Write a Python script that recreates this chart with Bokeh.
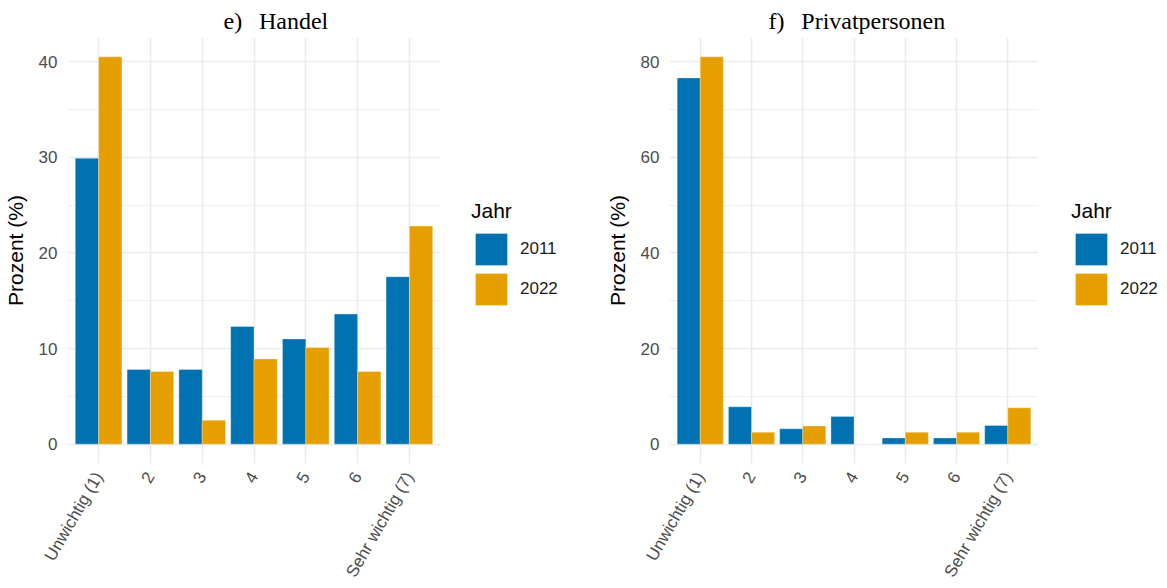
from bokeh.plotting import figure
from bokeh.models import (ColumnDataSource, FactorRange, Range1d, FixedTicker,
                          Legend, LegendItem)
from bokeh.transform import dodge
from bokeh.layouts import row
from bokeh.embed import file_html
from bokeh.resources import INLINE

# ---- data -----------------------------------------------------------------
categories = ["Unwichtig (1)", "2", "3", "4", "5", "6", "Sehr wichtig (7)"]
years = ["2011", "2022"]
handel_2011 = [29.9, 7.8, 7.8, 12.3, 11.0, 13.6, 17.5]
handel_2022 = [40.5, 7.6, 2.5, 8.9, 10.1, 7.6, 22.8]
privat_2011 = [76.6, 7.8, 3.2, 5.8, 1.3, 1.3, 3.9]
privat_2022 = [81.0, 2.5, 3.8, 0.0, 2.5, 2.5, 7.6]
handel_ticks = [0, 10, 20, 30, 40]
privat_ticks = [0, 20, 40, 60, 80]
titles = ["e)\u00a0\u00a0\u2009Handel", "f)\u00a0\u00a0\u2009Privatpersonen"]
legend_title = "Jahr"
y_label = "Prozent (%)"

COL_2011 = "#0072B2"
COL_2022 = "#E69F00"
SANS = "Liberation Sans"
SERIF = "Liberation Serif"

FIG_H = 588
B_TOP = 37
B_BOTTOM = 125


def make_panel(title, v2011, v2022, ticks, border_left, frame_w, title_offset):
    src = ColumnDataSource(dict(cat=categories, y2011=v2011, y2022=v2022))
    vmax = max(max(v2011), max(v2022))
    pad = 0.05 * vmax
    p = figure(x_range=FactorRange(factors=categories, range_padding=0.1,
                                   range_padding_units="absolute"),
               y_range=Range1d(-pad, vmax + pad),
               width=border_left + frame_w, height=FIG_H,
               output_backend="svg", toolbar_location=None,
               min_border_left=border_left, min_border_right=0,
               min_border_top=B_TOP, min_border_bottom=B_BOTTOM)
    p.outline_line_color = None
    p.background_fill_color = "white"
    p.border_fill_color = "white"

    p.title.text = title
    p.title.text_font = SERIF
    p.title.text_font_size = "24px"
    p.title.text_font_style = "normal"
    p.title.text_color = "black"
    p.title.align = "left"
    p.title.offset = title_offset
    p.title.standoff = 7

    p.vbar(x=dodge("cat", -0.225, range=p.x_range), top="y2011",
           width=0.45, source=src, fill_color=COL_2011,
           line_color="white", line_width=0.6, line_alpha=0.5)
    p.vbar(x=dodge("cat", 0.225, range=p.x_range), top="y2022",
           width=0.45, source=src, fill_color=COL_2022,
           line_color="white", line_width=0.6, line_alpha=0.5)

    step = ticks[1] - ticks[0]
    p.ygrid.ticker = FixedTicker(ticks=ticks,
                                 minor_ticks=[t + step / 2 for t in ticks[:-1]])
    p.ygrid.grid_line_color = "#ebebeb"
    p.ygrid.grid_line_width = 1.6
    p.ygrid.minor_grid_line_color = "#ebebeb"
    p.ygrid.minor_grid_line_width = 0.8
    p.xgrid.grid_line_color = "#ebebeb"
    p.xgrid.grid_line_width = 1.6

    ya = p.yaxis[0]
    ya.ticker = FixedTicker(ticks=ticks)
    ya.axis_line_color = None
    ya.major_tick_line_color = None
    ya.minor_tick_line_color = None
    ya.major_tick_out = 0
    ya.major_label_standoff = 10
    ya.major_label_text_font = SANS
    ya.major_label_text_font_size = "17px"
    ya.major_label_text_color = "#4d4d4d"
    ya.axis_label = y_label
    ya.axis_label_text_font = SANS
    ya.axis_label_text_font_size = "21px"
    ya.axis_label_text_font_style = "normal"
    ya.axis_label_text_color = "black"
    ya.axis_label_standoff = 9

    xa = p.xaxis[0]
    xa.axis_line_color = None
    xa.major_tick_line_color = None
    xa.minor_tick_line_color = None
    xa.major_tick_out = 0
    xa.major_label_standoff = 10
    xa.major_label_orientation = 1.0471975512
    xa.major_label_text_font = SANS
    xa.major_label_text_font_size = "17px"
    xa.major_label_text_color = "#4d4d4d"
    return p


def make_legend(width, x_off):
    lp = figure(width=width, height=FIG_H, x_range=Range1d(0, 1),
                y_range=Range1d(0, 1), x_axis_type=None, y_axis_type=None,
                output_backend="svg", toolbar_location=None,
                min_border_left=0, min_border_right=0,
                min_border_top=0, min_border_bottom=0)
    lp.outline_line_color = None
    lp.grid.visible = False
    lp.background_fill_color = "white"
    lp.border_fill_color = "white"
    # hidden proxy renderers that only carry the legend styling
    r1 = lp.vbar(x=[0.5], top=[1], width=0.1, fill_color=COL_2011,
                 line_color="white", line_width=0.6, line_alpha=0.5,
                 visible=False)
    r2 = lp.vbar(x=[0.5], top=[1], width=0.1, fill_color=COL_2022,
                 line_color="white", line_width=0.6, line_alpha=0.5,
                 visible=False)
    legend = Legend(items=[LegendItem(label=years[0], renderers=[r1]),
                           LegendItem(label=years[1], renderers=[r2])],
                    title=legend_title, location=(x_off, 154),
                    orientation="vertical")
    legend.inactive_fill_alpha = 0
    legend.title_text_font = SANS
    legend.title_text_font_size = "21px"
    legend.title_text_font_style = "normal"
    legend.title_text_color = "black"
    legend.title_standoff = 6
    legend.label_text_font = SANS
    legend.label_text_font_size = "17px"
    legend.label_text_color = "#1a1a1a"
    legend.glyph_width = 40
    legend.glyph_height = 40
    legend.label_height = 40
    legend.label_standoff = 9
    legend.spacing = 0
    legend.padding = 0
    legend.margin = 0
    legend.border_line_color = None
    legend.background_fill_alpha = 0
    lp.add_layout(legend, "center")
    return lp


p1 = make_panel(titles[0], handel_2011, handel_2022, handel_ticks, 67, 373, 156)
l1 = make_legend(160, 31)
p2 = make_panel(titles[1], privat_2011, privat_2022, privat_ticks, 69, 369, 99)
l2 = make_legend(129, 33)

layout = row(p1, l1, p2, l2)
open("out.html", "w").write(file_html(layout, INLINE))
